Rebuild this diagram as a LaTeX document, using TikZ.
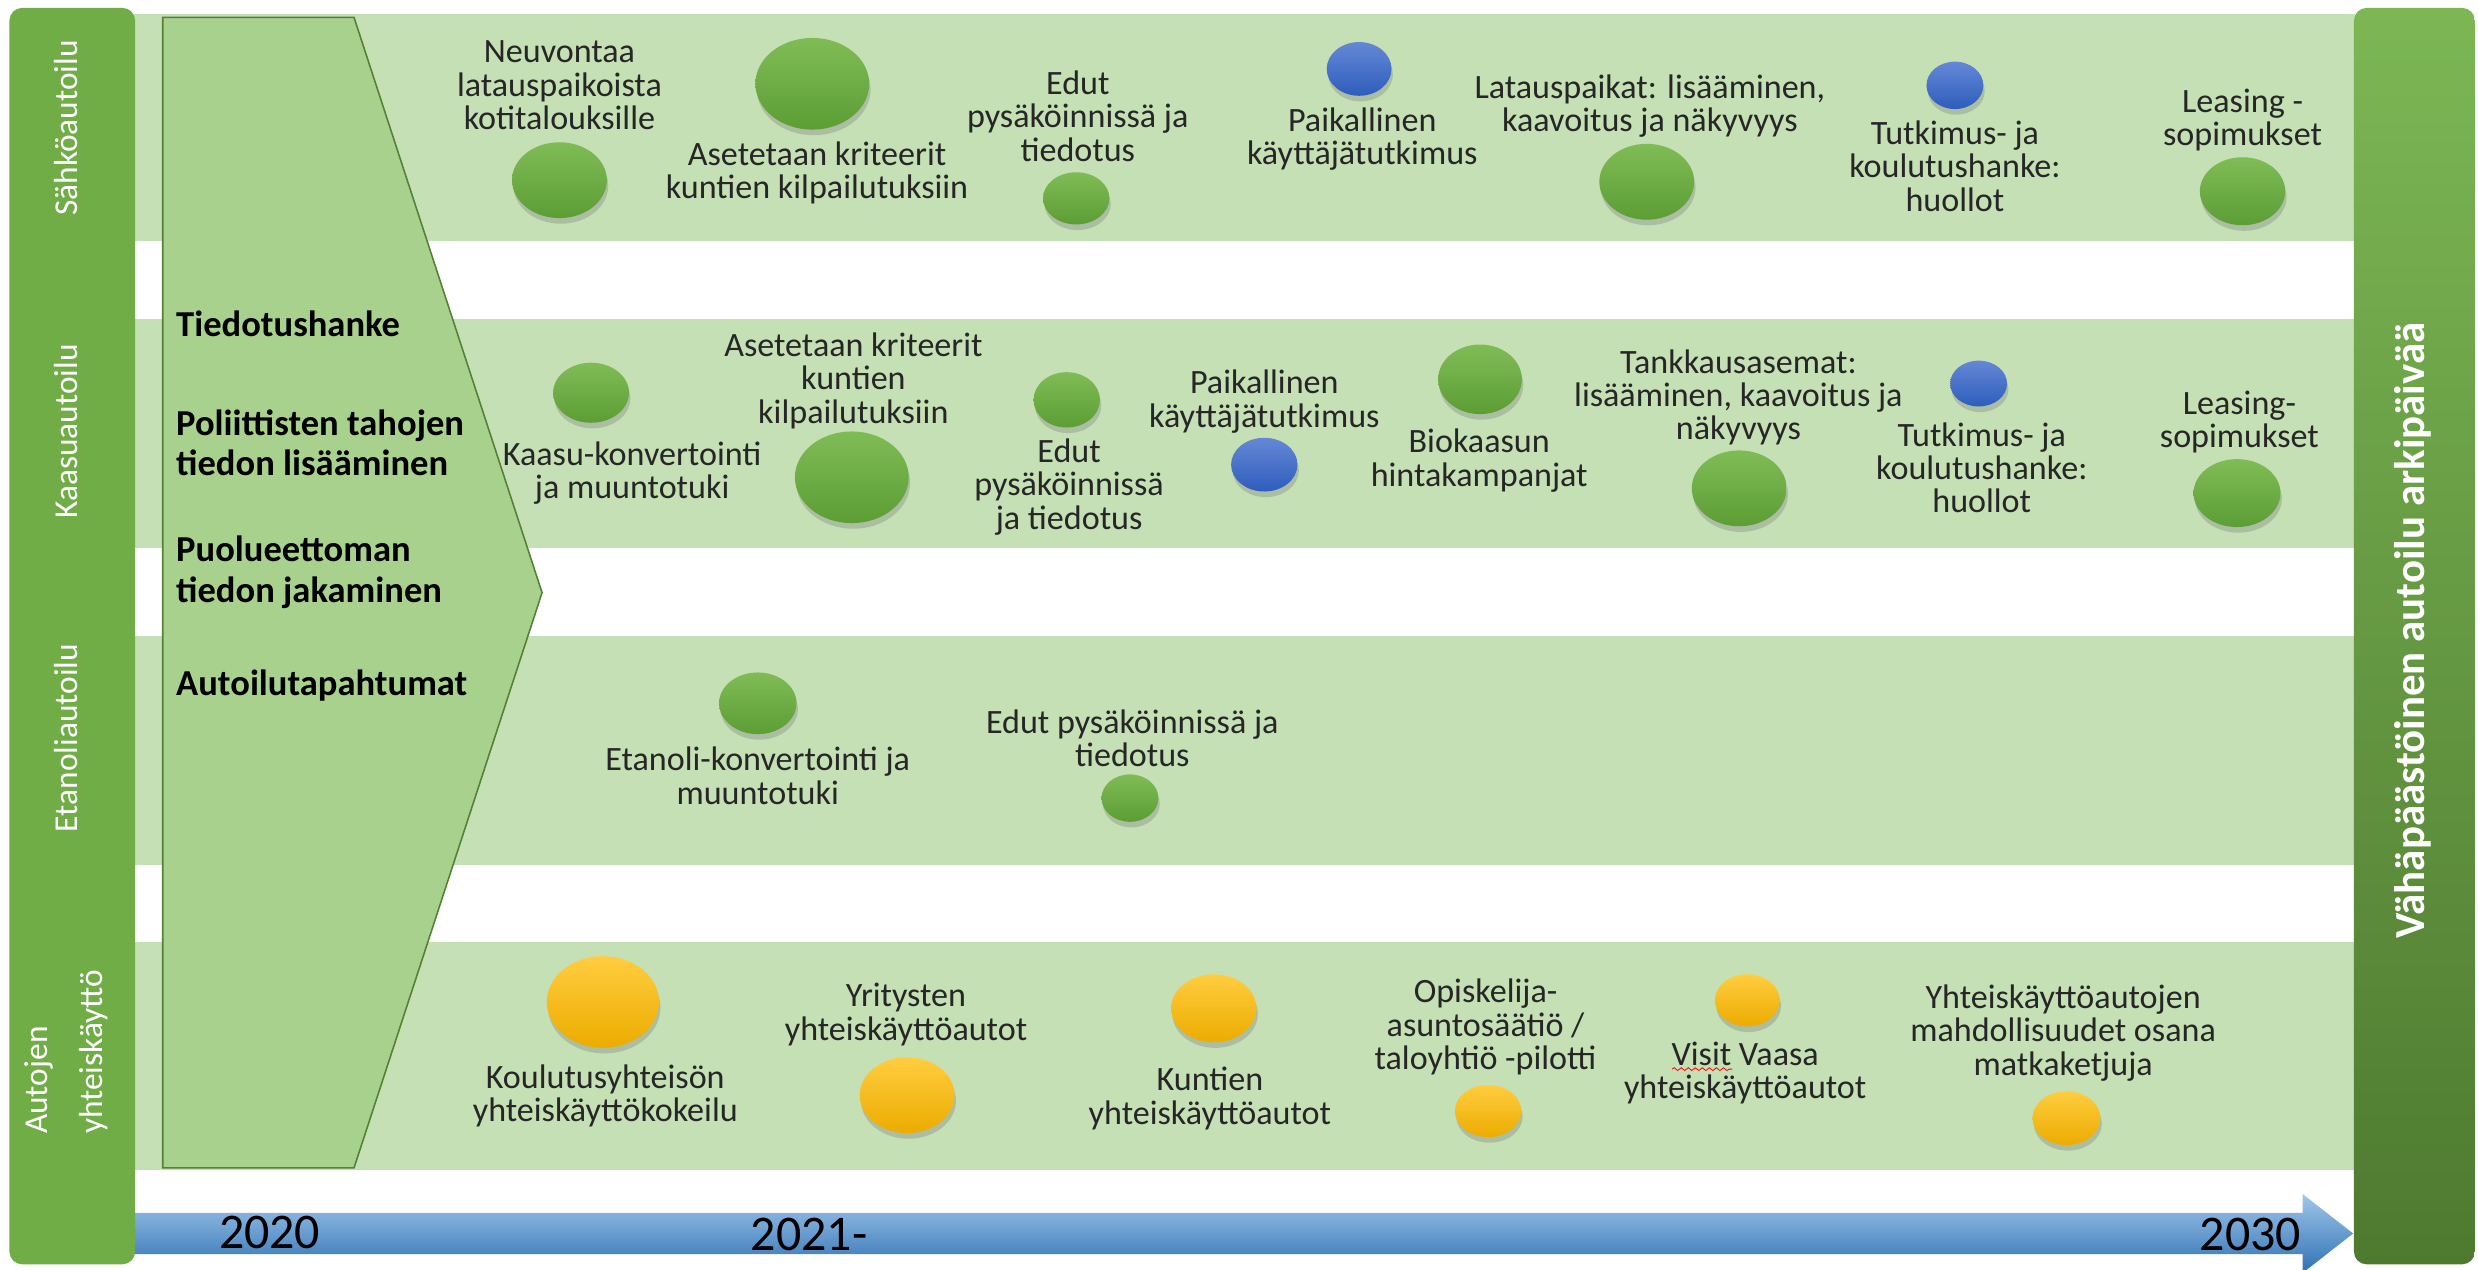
\documentclass[tikz,border=0pt]{standalone}
\usepackage{fontspec}
\setmainfont{Carlito}
\usetikzlibrary{shapes.geometric,shadows,decorations.pathmorphing}

\newlength{\du}
\setlength{\du}{0.4497pt}

\definecolor{lanegreen}{RGB}{112,173,71}
\definecolor{chevronfill}{RGB}{169,209,142}
\definecolor{chevronline}{RGB}{84,130,53}
\definecolor{greentop}{RGB}{128,188,86}
\definecolor{greenbot}{RGB}{92,157,52}
\definecolor{bluetop}{RGB}{100,136,214}
\definecolor{bluebot}{RGB}{46,93,188}
\definecolor{yellowtop}{RGB}{255,205,64}
\definecolor{yellowbot}{RGB}{236,172,0}
\definecolor{arrowlight}{RGB}{160,199,234}
\definecolor{arrowdark}{RGB}{48,112,180}
\definecolor{goallight}{RGB}{124,183,84}
\definecolor{goaldark}{RGB}{78,122,48}
\definecolor{itemgray}{RGB}{38,38,38}

\tikzset{
  ball/.style={ellipse, inner sep=0pt,
    drop shadow={shadow xshift=0.4pt, shadow yshift=-1.6pt, opacity=0.35}},
  greenball/.style={ball, top color=greentop, bottom color=greenbot},
  blueball/.style={ball, top color=bluetop, bottom color=bluebot},
  yellowball/.style={ball, top color=yellowtop, bottom color=yellowbot},
  ballsize/.style 2 args={minimum width=#1\du, minimum height=#2\du},
  itemtext/.style={align=center, inner sep=0pt, text=itemgray,
    font=\fontsize{9.7}{9.5}\selectfont},
  lanetext/.style={rotate=90, inner sep=0pt, text=white,
    font=\fontsize{9.5}{15.7}\selectfont},
  chevtext/.style={anchor=west, align=left, inner sep=0pt, text=black,
    font=\fontsize{10.4}{11.5}\selectfont\bfseries},
  yeartext/.style={inner sep=0pt, text=black, font=\fontsize{14.2}{16}\selectfont},
  goaltext/.style={rotate=90, inner sep=0pt, text=white,
    font=\fontsize{12.2}{14}\selectfont\bfseries},
}

\begin{document}
\begin{tikzpicture}
\pgftransformxscale{1.000000}
\pgftransformyscale{-1.000000}
\useasboundingbox (0\du,0\du) rectangle (1568\du,803\du);
% lanes
\definecolor{dialinecolor}{rgb}{0.772549, 0.878431, 0.705882}
\pgfsetfillcolor{dialinecolor}
\fill (85.000000\du,8.600000\du)--(85.000000\du,152.600000\du)--(1490.000000\du,152.600000\du)--(1490.000000\du,8.600000\du)--cycle;
\fill (85.000000\du,202.000000\du)--(85.000000\du,347.000000\du)--(1490.000000\du,347.000000\du)--(1490.000000\du,202.000000\du)--cycle;
\fill (85.000000\du,402.500000\du)--(85.000000\du,547.600000\du)--(1490.000000\du,547.600000\du)--(1490.000000\du,402.500000\du)--cycle;
\fill (85.000000\du,596.000000\du)--(85.000000\du,740.300000\du)--(1490.000000\du,740.300000\du)--(1490.000000\du,596.000000\du)--cycle;
% time arrow
\shade[top color=arrowlight, bottom color=arrowdark] (80.000000\du,767.500000\du)--(1457.000000\du,767.500000\du)--(1457.000000\du,755.500000\du)--(1489.000000\du,780.500000\du)--(1457.000000\du,805.500000\du)--(1457.000000\du,793.500000\du)--(80.000000\du,793.500000\du)--cycle;
% left bar
\definecolor{dialinecolor}{rgb}{0.439216, 0.678431, 0.278431}
\pgfsetfillcolor{dialinecolor}
\fill[rounded corners=8\du] (6.000000\du,5.000000\du) rectangle (85.500000\du,800.000000\du);
% right bar
\shade[top color=goallight, bottom color=goaldark, rounded corners=8\du] (1489.500000\du,5.000000\du) rectangle (1566.000000\du,800.000000\du);
% chevron
\pgfsetlinewidth{1.000000\du}
\pgfsetmiterjoin
\filldraw[fill=chevronfill, draw=chevronline] (103.000000\du,11.000000\du)--(224.000000\du,11.000000\du)--(343.000000\du,375.000000\du)--(224.000000\du,739.000000\du)--(103.000000\du,739.000000\du)--cycle;
% setfont left to latex
\node[lanetext] (sahko) at (42\du,81\du){Sähköautoilu};
\node[lanetext] (kaasu) at (42\du,273\du){Kaasuautoilu};
\node[lanetext] (etanoli) at (42\du,467\du){Etanoliautoilu};
\node[lanetext, align=left, anchor=west] (yhteis) at (42\du,718\du){Autojen\\yhteiskäyttö};
\node[goaltext] (goal) at (1527\du,399\du){Vähäpäästöinen autoilu arkipäivää};
% setfont left to latex
\node[chevtext] (tiedotus) at (111\du,205\du){Tiedotushanke};
\node[chevtext] (poliittiset) at (111\du,280\du){Poliittisten tahojen\\tiedon lisääminen};
\node[chevtext] (puolueeton) at (111\du,362\du){Puolueettoman\\tiedon jakaminen};
\node[chevtext] (tapahtumat) at (111\du,434\du){Autoilutapahtumat};
% setfont left to latex
\node[yeartext] (v2020) at (170.6\du,780\du){2020};
\node[yeartext] (v2021) at (512\du,781\du){2021-};
\node[yeartext] (v2030) at (1424\du,781\du){2030};
% Sähköautoilu
\node[itemtext] (s1txt) at (354\du,54\du){Neuvontaa\\latauspaikoista\\kotitalouksille};
\node[greenball, ballsize={60}{48}] (s1) at (354\du,114\du){};
\node[greenball, ballsize={72}{58}] (s2) at (514\du,53\du){};
\node[itemtext] (s2txt) at (517\du,109.5\du){Asetetaan kriteerit\\kuntien kilpailutuksiin};
\node[itemtext] (s3txt) at (682\du,73.5\du){Edut\\pysäköinnissä ja\\tiedotus};
\node[greenball, ballsize={42}{33}] (s3) at (681\du,125.5\du){};
\node[blueball, ballsize={41}{34}] (s4) at (860\du,43.6\du){};
\node[itemtext] (s4txt) at (862\du,88\du){Paikallinen\\käyttäjätutkimus};
\node[itemtext] (s5txt) at (1044\du,67\du){Latauspaikat: lisääminen,\\kaavoitus ja näkyvyys};
\node[greenball, ballsize={60}{48}] (s5) at (1042\du,115\du){};
\node[blueball, ballsize={36}{30}] (s6) at (1237\du,54\du){};
\node[itemtext] (s6txt) at (1237\du,105\du){Tutkimus- ja\\koulutushanke:\\huollot};
\node[itemtext] (s7txt) at (1419\du,76\du){Leasing -\\sopimukset};
\node[greenball, ballsize={54}{43}] (s7) at (1419\du,121\du){};
% Kaasuautoilu
\node[greenball, ballsize={48}{38}] (k1) at (374\du,248.5\du){};
\node[itemtext] (k1txt) at (400\du,299.5\du){Kaasu-konvertointi\\ja muuntotuki};
\node[itemtext] (k2txt) at (540\du,241\du){Asetetaan kriteerit\\kuntien\\kilpailutuksiin};
\node[greenball, ballsize={72}{58}] (k2) at (539\du,302\du){};
\node[greenball, ballsize={42}{35}] (k3) at (675\du,253\du){};
\node[itemtext] (k3txt) at (676.5\du,308\du){Edut\\pysäköinnissä\\ja tiedotus};
\node[itemtext] (k4txt) at (800\du,254\du){Paikallinen\\käyttäjätutkimus};
\node[blueball, ballsize={42}{34}] (k4) at (800\du,294\du){};
\node[greenball, ballsize={53}{44}] (k5) at (936.5\du,240\du){};
\node[itemtext] (k5txt) at (936\du,291.5\du){Biokaasun\\hintakampanjat};
\node[itemtext] (k6txt) at (1100\du,251.5\du){Tankkausasemat:\\lisääminen, kaavoitus ja\\näkyvyys};
\node[greenball, ballsize={60}{48}] (k6) at (1100.5\du,309\du){};
\node[blueball, ballsize={36}{29}] (k7) at (1252\du,242.7\du){};
\node[itemtext] (k7txt) at (1254\du,296\du){Tutkimus- ja\\koulutushanke:\\huollot};
\node[itemtext] (k8txt) at (1417\du,267\du){Leasing-\\sopimukset};
\node[greenball, ballsize={55}{43}] (k8) at (1415.5\du,312\du){};
% Etanoliautoilu
\node[greenball, ballsize={49}{39}] (e1) at (479.5\du,445\du){};
\node[itemtext] (e1txt) at (479.5\du,491\du){Etanoli-konvertointi ja\\muuntotuki};
\node[itemtext] (e2txt) at (716.5\du,467\du){Edut pysäköinnissä ja\\tiedotus};
\node[greenball, ballsize={36}{30}] (e2) at (715\du,505\du){};
% Autojen yhteiskäyttö
\node[yellowball, ballsize={71}{58}] (y1) at (381.5\du,634\du){};
\node[itemtext] (y1txt) at (383\du,693.6\du){Koulutusyhteisön\\yhteiskäyttökokeilu};
\node[itemtext] (y2txt) at (573.3\du,642\du){Yritysten\\yhteiskäyttöautot};
\node[yellowball, ballsize={60}{48}] (y2) at (574\du,693\du){};
\node[yellowball, ballsize={54}{43}] (y3) at (768\du,638\du){};
\node[itemtext] (y3txt) at (765.6\du,695\du){Kuntien\\yhteiskäyttöautot};
\node[itemtext] (y4txt) at (940\du,650\du){Opiskelija-\\asuntosäätiö /\\taloyhtiö -pilotti};
\node[yellowball, ballsize={42}{33}] (y4) at (941.6\du,703\du){};
\node[yellowball, ballsize={41}{33}] (y5) at (1105.6\du,633\du){};
\node[itemtext] (y5txt) at (1104.3\du,679\du){Visit Vaasa\\yhteiskäyttöautot};
\node[itemtext] (y6txt) at (1305.5\du,653.5\du){Yhteiskäyttöautojen\\mahdollisuudet osana\\matkaketjuja};
\node[yellowball, ballsize={43}{34}] (y6) at (1307.6\du,707.5\du){};
% was here!!! spell check mark
\draw[red, line width=0.5\du, decorate, decoration={snake, amplitude=0.4pt, segment length=2pt}] (1058\du,676.5\du)--(1096\du,676.5\du);
\end{tikzpicture}
\end{document}
